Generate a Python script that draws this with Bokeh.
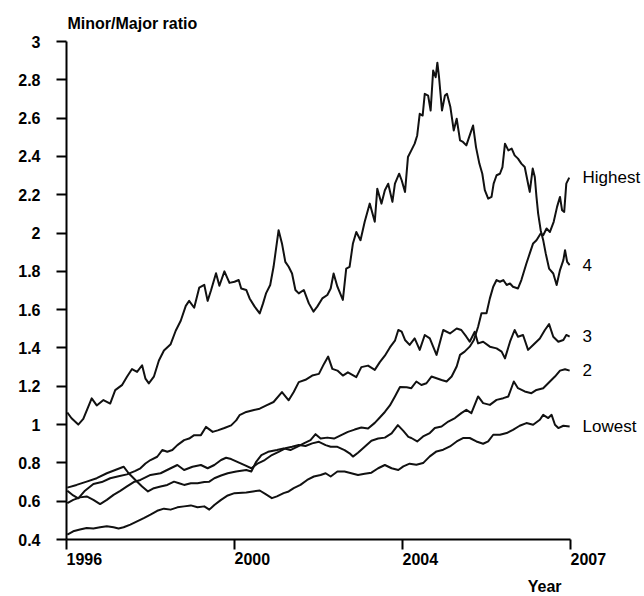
from bokeh.plotting import figure
from bokeh.models import FixedTicker, BasicTicker, LinearAxis, Title, CustomJSTickFormatter
from bokeh.embed import file_html
from bokeh.resources import INLINE

FONT = "Liberation Sans"

# ---- axis ticks / labels ----
y_ticks = [0.4, 0.6, 0.8, 1.0, 1.2, 1.4, 1.6, 1.8, 2.0, 2.2, 2.4, 2.6, 2.8, 3.0]
y_tick_labels = ["0.4", "0.6", "0.8", "1", "1.2", "1.4", "1.6", "1.8", "2", "2.2", "2.4", "2.6", "2.8", "3"]
x_ticks = [1996, 2000, 2004, 2008]
x_tick_labels = ["1996", "2000", "2004", "2007"]
y_title = "Minor/Major ratio"
x_title = "Year"

# ---- series (decimal year, Minor/Major ratio) ----
highest_x = [1996.02, 1996.24, 1996.48, 1996.72, 1996.96, 1997.16, 1997.36, 1997.48, 1997.64, 1997.80,
             1997.94, 1998.08, 1998.24, 1998.40, 1998.56, 1998.68, 1998.80, 1998.96, 1999.12, 1999.28,
             1999.40, 1999.52, 1999.68, 1999.84, 2000.04, 2000.28, 2000.40, 2000.52, 2000.64, 2000.80,
             2001.01, 2001.17, 2001.33, 2001.49, 2001.65, 2001.81, 2001.93, 2002.05, 2002.21, 2002.37,
             2002.54, 2002.70, 2002.86, 2003.02, 2003.18, 2003.34, 2003.46, 2003.58, 2003.70, 2003.82,
             2003.94, 2004.10, 2004.21, 2004.33, 2004.45, 2004.57, 2004.69, 2004.81, 2004.93, 2005.05,
             2005.17, 2005.29, 2005.37, 2005.48, 2005.60, 2005.70, 2005.80, 2005.88, 2006.00, 2006.08,
             2006.16, 2006.24, 2006.32, 2006.40, 2006.48, 2006.56, 2006.63, 2006.75, 2006.83, 2006.95,
             2007.03, 2007.11, 2007.19, 2007.29, 2007.35, 2007.43, 2007.51, 2007.60, 2007.68, 2007.75,
             2007.80, 2007.85, 2007.90, 2007.97]
highest_y = [0.671, 0.685, 0.702, 0.720, 0.746, 0.763, 0.780, 0.746, 0.711, 0.677,
             0.651, 0.668, 0.677, 0.685, 0.702, 0.694, 0.685, 0.694, 0.694, 0.700,
             0.702, 0.720, 0.734, 0.746, 0.755, 0.763, 0.755, 0.807, 0.841, 0.858,
             0.867, 0.876, 0.867, 0.884, 0.902, 0.919, 0.950, 0.927, 0.932, 0.927,
             0.945, 0.962, 0.974, 0.985, 0.980, 1.009, 1.037, 1.066, 1.100, 1.147,
             1.196, 1.195, 1.190, 1.225, 1.207, 1.216, 1.251, 1.242, 1.233, 1.225,
             1.251, 1.303, 1.364, 1.381, 1.407, 1.442, 1.511, 1.581, 1.581, 1.659,
             1.720, 1.755, 1.746, 1.755, 1.729, 1.737, 1.720, 1.711, 1.755, 1.841,
             1.894, 1.946, 1.963, 1.998, 1.989, 2.024, 2.006, 2.059, 2.137, 2.189,
             2.119, 2.111, 2.258, 2.290]

q4_x = [1996.02, 1996.12, 1996.28, 1996.40, 1996.60, 1996.72, 1996.88, 1997.04, 1997.16, 1997.32,
        1997.44, 1997.56, 1997.68, 1997.80, 1997.88, 1997.96, 1998.08, 1998.20, 1998.32, 1998.48,
        1998.60, 1998.72, 1998.84, 1998.92, 1999.04, 1999.16, 1999.28, 1999.36, 1999.44, 1999.56,
        1999.64, 1999.76, 1999.88, 2000.00, 2000.10, 2000.16, 2000.28, 2000.36, 2000.48, 2000.60,
        2000.68, 2000.75, 2000.85, 2000.93, 2001.05, 2001.13, 2001.21, 2001.29, 2001.37, 2001.45,
        2001.53, 2001.65, 2001.77, 2001.88, 2001.97, 2002.09, 2002.21, 2002.29, 2002.36, 2002.45,
        2002.58, 2002.66, 2002.74, 2002.82, 2002.90, 2003.00, 2003.10, 2003.22, 2003.34, 2003.40,
        2003.50, 2003.58, 2003.66, 2003.76, 2003.82, 2003.92, 2003.98, 2004.06, 2004.13, 2004.21,
        2004.29, 2004.35, 2004.41, 2004.48, 2004.53, 2004.61, 2004.67, 2004.73, 2004.79, 2004.83,
        2004.87, 2004.94, 2005.01, 2005.06, 2005.14, 2005.22, 2005.29, 2005.37, 2005.44, 2005.52,
        2005.60, 2005.68, 2005.75, 2005.83, 2005.90, 2005.96, 2006.04, 2006.12, 2006.17, 2006.24,
        2006.32, 2006.38, 2006.44, 2006.52, 2006.60, 2006.67, 2006.75, 2006.83, 2006.91, 2006.99,
        2007.03, 2007.10, 2007.15, 2007.19, 2007.23, 2007.29, 2007.35, 2007.41, 2007.49, 2007.59,
        2007.67, 2007.75, 2007.83, 2007.87, 2007.92, 2007.98]
q4_y = [1.063, 1.033, 1.000, 1.030, 1.137, 1.100, 1.128, 1.110, 1.180, 1.206,
        1.250, 1.290, 1.275, 1.310, 1.240, 1.215, 1.250, 1.335, 1.387, 1.420,
        1.490, 1.542, 1.620, 1.646, 1.610, 1.715, 1.730, 1.646, 1.700, 1.790,
        1.725, 1.800, 1.740, 1.746, 1.755, 1.711, 1.703, 1.659, 1.616, 1.581,
        1.633, 1.685, 1.729, 1.824, 2.015, 1.946, 1.850, 1.824, 1.789, 1.703,
        1.685, 1.703, 1.633, 1.590, 1.616, 1.659, 1.677, 1.711, 1.789, 1.720,
        1.651, 1.815, 1.824, 1.946, 2.006, 1.963, 2.059, 2.154, 2.059, 2.232,
        2.154, 2.224, 2.258, 2.163, 2.258, 2.310, 2.276, 2.215, 2.397, 2.432,
        2.467, 2.510, 2.623, 2.614, 2.727, 2.718, 2.640, 2.849, 2.814, 2.890,
        2.814, 2.640, 2.718, 2.727, 2.658, 2.536, 2.597, 2.484, 2.476, 2.458,
        2.510, 2.562, 2.449, 2.363, 2.310, 2.224, 2.180, 2.189, 2.258, 2.302,
        2.310, 2.345, 2.467, 2.432, 2.441, 2.406, 2.389, 2.363, 2.345, 2.258,
        2.215, 2.337, 2.293, 2.189, 2.102, 2.015, 1.963, 1.894, 1.815, 1.789,
        1.729, 1.807, 1.859, 1.911, 1.850, 1.833]

q3_x = [1996.02, 1996.16, 1996.28, 1996.44, 1996.64, 1996.84, 1997.04, 1997.24, 1997.44, 1997.64,
        1997.76, 1997.88, 1998.00, 1998.16, 1998.28, 1998.40, 1998.52, 1998.64, 1998.80, 1998.92,
        1999.04, 1999.20, 1999.32, 1999.48, 1999.60, 1999.76, 1999.92, 2000.04, 2000.12, 2000.28,
        2000.44, 2000.60, 2000.76, 2000.93, 2001.13, 2001.29, 2001.41, 2001.53, 2001.69, 2001.85,
        2002.01, 2002.13, 2002.23, 2002.33, 2002.45, 2002.58, 2002.70, 2002.90, 2003.02, 2003.18,
        2003.34, 2003.46, 2003.58, 2003.70, 2003.82, 2003.90, 2003.98, 2004.06, 2004.17, 2004.29,
        2004.41, 2004.53, 2004.65, 2004.81, 2004.97, 2005.13, 2005.29, 2005.40, 2005.52, 2005.60,
        2005.72, 2005.80, 2005.92, 2006.08, 2006.24, 2006.36, 2006.44, 2006.56, 2006.67, 2006.75,
        2006.87, 2006.99, 2007.11, 2007.27, 2007.39, 2007.49, 2007.59, 2007.71, 2007.83, 2007.90,
        2007.98]
q3_y = [0.655, 0.630, 0.615, 0.655, 0.690, 0.700, 0.720, 0.730, 0.740, 0.758,
        0.772, 0.797, 0.815, 0.832, 0.867, 0.858, 0.867, 0.893, 0.919, 0.927,
        0.945, 0.945, 0.988, 0.962, 0.970, 0.982, 0.996, 1.022, 1.049, 1.066,
        1.075, 1.083, 1.100, 1.118, 1.170, 1.127, 1.170, 1.222, 1.234, 1.256,
        1.265, 1.317, 1.355, 1.291, 1.282, 1.256, 1.273, 1.248, 1.300, 1.308,
        1.286, 1.326, 1.360, 1.403, 1.438, 1.494, 1.485, 1.442, 1.416, 1.450,
        1.390, 1.468, 1.450, 1.364, 1.494, 1.476, 1.502, 1.494, 1.459, 1.433,
        1.485, 1.424, 1.433, 1.407, 1.398, 1.381, 1.346, 1.433, 1.494, 1.459,
        1.468, 1.390, 1.416, 1.450, 1.494, 1.525, 1.459, 1.433, 1.442, 1.468,
        1.459]

q2_x = [1996.02, 1996.16, 1996.32, 1996.48, 1996.64, 1996.80, 1996.96, 1997.12, 1997.28, 1997.44,
        1997.60, 1997.76, 1998.00, 1998.24, 1998.48, 1998.64, 1998.80, 1999.00, 1999.20, 1999.36,
        1999.52, 1999.68, 1999.80, 1999.92, 2000.12, 2000.28, 2000.40, 2000.56, 2000.72, 2000.89,
        2001.05, 2001.21, 2001.37, 2001.53, 2001.69, 2001.85, 2002.01, 2002.17, 2002.29, 2002.45,
        2002.62, 2002.74, 2002.82, 2002.94, 2003.10, 2003.26, 2003.42, 2003.58, 2003.74, 2003.89,
        2004.02, 2004.14, 2004.21, 2004.35, 2004.49, 2004.65, 2004.77, 2004.93, 2005.09, 2005.25,
        2005.40, 2005.52, 2005.64, 2005.80, 2005.92, 2006.08, 2006.24, 2006.40, 2006.52, 2006.65,
        2006.75, 2006.91, 2007.07, 2007.19, 2007.35, 2007.51, 2007.63, 2007.75, 2007.87, 2007.98]
q2_y = [0.590, 0.607, 0.620, 0.625, 0.607, 0.585, 0.607, 0.633, 0.654, 0.677,
        0.700, 0.711, 0.737, 0.746, 0.772, 0.789, 0.763, 0.780, 0.789, 0.772,
        0.789, 0.815, 0.827, 0.820, 0.800, 0.784, 0.772, 0.798, 0.815, 0.841,
        0.858, 0.876, 0.884, 0.893, 0.888, 0.902, 0.910, 0.893, 0.884, 0.884,
        0.867, 0.850, 0.833, 0.853, 0.884, 0.916, 0.927, 0.932, 0.954, 0.997,
        0.967, 0.936, 0.930, 0.912, 0.938, 0.956, 0.982, 0.990, 1.016, 1.034,
        1.060, 1.077, 1.060, 1.147, 1.112, 1.103, 1.129, 1.138, 1.147, 1.225,
        1.190, 1.173, 1.164, 1.181, 1.190, 1.225, 1.251, 1.282, 1.289, 1.282]

lowest_x = [1996.02, 1996.16, 1996.32, 1996.48, 1996.64, 1996.80, 1996.96, 1997.12, 1997.24, 1997.36,
            1997.52, 1997.68, 1997.84, 1998.00, 1998.16, 1998.32, 1998.48, 1998.64, 1998.80, 1998.96,
            1999.12, 1999.28, 1999.40, 1999.52, 1999.68, 1999.84, 2000.00, 2000.28, 2000.44, 2000.60,
            2000.76, 2000.89, 2001.01, 2001.17, 2001.29, 2001.41, 2001.57, 2001.73, 2001.89, 2002.05,
            2002.17, 2002.29, 2002.45, 2002.62, 2002.78, 2002.94, 2003.10, 2003.26, 2003.42, 2003.58,
            2003.74, 2003.90, 2004.02, 2004.17, 2004.33, 2004.49, 2004.65, 2004.81, 2004.97, 2005.13,
            2005.29, 2005.44, 2005.60, 2005.76, 2005.92, 2006.04, 2006.16, 2006.32, 2006.48, 2006.63,
            2006.79, 2006.95, 2007.11, 2007.27, 2007.35, 2007.47, 2007.55, 2007.63, 2007.71, 2007.83,
            2007.98]
lowest_y = [0.426, 0.443, 0.452, 0.460, 0.457, 0.464, 0.469, 0.464, 0.457, 0.464,
            0.478, 0.495, 0.512, 0.530, 0.550, 0.561, 0.556, 0.568, 0.573, 0.578,
            0.568, 0.573, 0.556, 0.580, 0.607, 0.630, 0.642, 0.646, 0.651, 0.656,
            0.634, 0.616, 0.625, 0.642, 0.651, 0.668, 0.685, 0.711, 0.729, 0.737,
            0.746, 0.729, 0.755, 0.755, 0.746, 0.737, 0.743, 0.749, 0.772, 0.789,
            0.772, 0.763, 0.782, 0.796, 0.790, 0.799, 0.834, 0.860, 0.869, 0.886,
            0.912, 0.930, 0.930, 0.912, 0.900, 0.912, 0.947, 0.947, 0.956, 0.973,
            0.994, 1.008, 0.999, 1.025, 1.051, 1.034, 1.051, 0.999, 0.982, 0.994,
            0.990]

series_names = ["Highest", "4", "3", "2", "Lowest"]
series_x = [highest_x, q4_x, q3_x, q2_x, lowest_x]
series_y = [highest_y, q4_y, q3_y, q2_y, lowest_y]

# formatter body: `tick` is supplied by Bokeh; tick_vals / tick_texts come from args
LABEL_CODE = """
let out = "";
for (let i = 0; i < tick_vals.length; i++) {
    if (Math.abs(tick_vals[i] - tick) < 1e-6) { out = tick_texts[i]; }
}
return out;
"""

p = figure(width=644, height=596, x_range=(x_ticks[0], x_ticks[-1]),
           y_range=(y_ticks[0], y_ticks[-1] + 0.0005),
           output_backend="svg", toolbar_location=None,
           min_border_left=66, min_border_right=74, min_border_top=41, min_border_bottom=56)
p.outline_line_color = None
p.xgrid.visible = False
p.ygrid.visible = False
p.background_fill_color = "white"
p.border_fill_color = "white"

# title used as the y-axis caption above the axis
p.title.text = y_title
p.title.align = "left"
p.title.offset = 1
p.title.standoff = 20
p.title.text_font = FONT
p.title.text_font_size = "16px"
p.title.text_font_style = "bold"
p.title.text_color = "black"

xstep = x_ticks[1] - x_ticks[0]
ystep = round(y_ticks[1] - y_ticks[0], 6)
xax = p.xaxis[0]
yax = p.yaxis[0]
xax.ticker = BasicTicker(mantissas=[xstep], min_interval=xstep, max_interval=xstep, desired_num_ticks=3)
yax.ticker = BasicTicker(mantissas=[2], min_interval=ystep, max_interval=ystep, desired_num_ticks=13)
xax.formatter = CustomJSTickFormatter(args=dict(tick_vals=x_ticks, tick_texts=x_tick_labels), code=LABEL_CODE)
yax.formatter = CustomJSTickFormatter(args=dict(tick_vals=y_ticks, tick_texts=y_tick_labels), code=LABEL_CODE)
for ax in (xax, yax):
    ax.minor_tick_line_color = None
    ax.major_tick_in = 0
    ax.major_tick_out = 10
    ax.axis_line_width = 2
    ax.major_tick_line_width = 2
    ax.axis_line_color = "black"
    ax.major_tick_line_color = "black"
    ax.major_label_text_font = FONT
    ax.major_label_text_font_size = "16px"
    ax.major_label_text_font_style = "bold"
    ax.major_label_text_color = "black"
yax.major_label_standoff = 16
# tiny negative angle -> labels start at the tick (left aligned), as in the original
xax.major_label_orientation = -0.0001
xax.major_label_standoff = 9

# x-axis caption at the lower right
p.add_layout(Title(text=x_title, align="right", offset=9, standoff=4,
                   text_font=FONT, text_font_size="16px", text_font_style="bold",
                   text_color="black"), "below")

# series names at the right ends, through a label-only axis
ends = [ys[-1] for ys in series_y]
rax = LinearAxis(ticker=FixedTicker(ticks=ends),
                 major_label_overrides={v: n for v, n in zip(ends, series_names)})
rax.axis_line_color = None
rax.major_tick_line_color = None
rax.minor_tick_line_color = None
rax.major_tick_out = 0
rax.major_tick_in = 0
rax.major_label_standoff = 12
rax.major_label_text_font = FONT
rax.major_label_text_font_size = "17px"
rax.major_label_text_color = "black"
p.add_layout(rax, "right")

for xs, ys in zip(series_x, series_y):
    p.line(xs, ys, line_color="#111111", line_width=2, line_join="round")

open("out.html", "w").write(file_html(p, INLINE))
